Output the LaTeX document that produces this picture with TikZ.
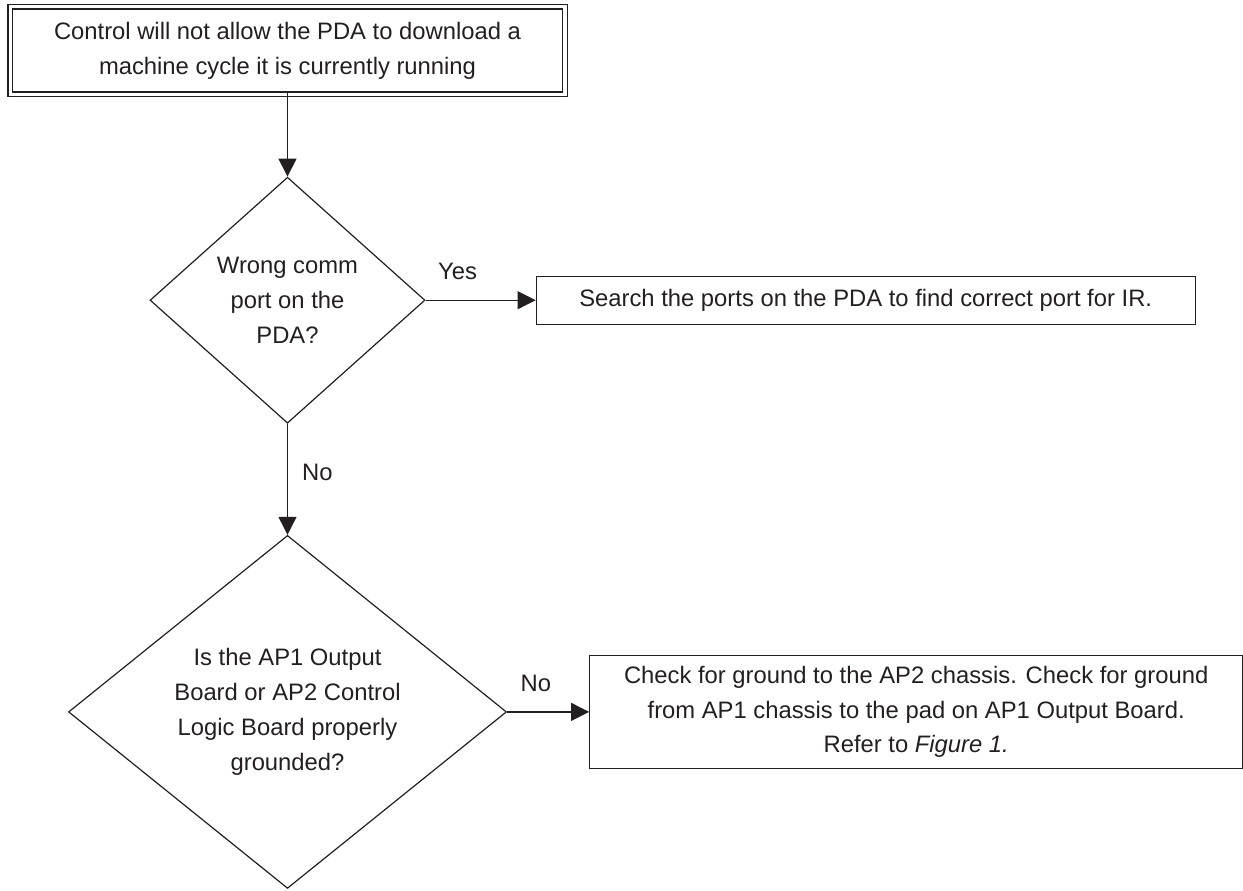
\documentclass[tikz,border=0pt]{standalone}
\usepackage{fontspec}
\setmainfont{Liberation Sans}
\usepackage{tikz}
\usetikzlibrary{
  arrows.meta,
  positioning,
  shapes.geometric
}
\definecolor{inkblack}{RGB}{35,31,32}
\tikzset{
  problem/.style={draw=inkblack,line width=0.6pt,align=center,inner sep=0pt,
    minimum width=275pt,minimum height=41.5pt},
  frame/.style={draw=inkblack,line width=0.6pt},
  query/.style={diamond,draw=inkblack,line width=0.6pt,align=center,
    inner sep=0pt},
  remedy/.style={draw=inkblack,line width=0.6pt,align=center,inner sep=0pt},
  flow/.style={-{Triangle[length=9pt,width=9pt]},line width=0.6pt,draw=inkblack},
  lab/.style={text=inkblack,inner sep=0pt}
}

\begin{document}
\begin{tikzpicture}[x=0.5pt,y=-0.5pt,font=\fontsize{11.9}{17.4}\selectfont,text=inkblack]
  \useasboundingbox (0,0) rectangle (1243,890);
  \node[problem] (fault) at (287.5,50.5) {
    Control will not allow the PDA to download a\\
    machine cycle it is currently running};
  \draw[frame] ([shift={(-2pt,2pt)}]fault.north west)
    rectangle ([shift={(2pt,-2pt)}]fault.south east);
  \node[query,below=42pt of fault,minimum width=137.5pt,minimum height=123pt,
    shape aspect=1.12] (port) {
    Wrong comm\\port on the\\PDA?};
  \node[remedy,right=55pt of port,minimum width=329.5pt,minimum height=24pt] (search) {
    Search the ports on the PDA to find correct port for IR.};
  \draw[flow] (fault)--(port);
  \draw[flow] (port)--node[lab,pos=0.29,above=10pt]{Yes}(search);

  \node[query,below=55.5pt of port,minimum width=219pt,minimum height=176.5pt,
    shape aspect=1.24] (ground) {
    Is the AP1 Output\\Board or AP2 Control\\Logic Board properly\\grounded?};
  \node[remedy,right=41pt of ground,minimum width=326.5pt,minimum height=56.5pt] (chassis) {
    Check for ground to the AP2 chassis. Check for ground\\
    from AP1 chassis to the pad on AP1 Output Board.\\
    Refer to \textit{Figure 1.}};
  \draw[flow] (port)--node[lab,pos=0.44,right=7pt]{No}(ground);
  \draw[flow] (ground)--node[lab,pos=0.35,above=10pt]{No}(chassis);
\end{tikzpicture}
\end{document}
